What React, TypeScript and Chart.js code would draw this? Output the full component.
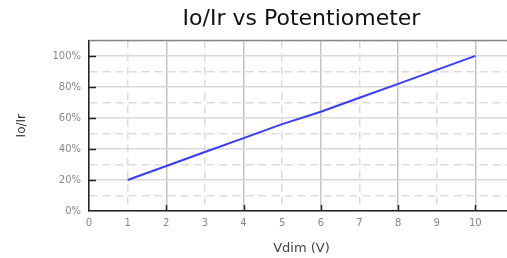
import React, { useEffect, useRef } from "react";
import { Chart, registerables } from "chart.js";

Chart.register(...registerables);

const xValues = [1, 2, 3, 4, 5, 6, 7, 8, 9, 10];
const ratioPercent = [20, 29, 38, 47, 56, 64, 73, 82, 91, 100];
const chartTitle = "Io/Ir vs Potentiometer";
const xAxisTitle = "Vdim (V)";
const yAxisTitle = "Io/Ir";

const innerTicks = {
  id: "innerTicks",
  afterDatasetsDraw(chart: any) {
    const { ctx, scales } = chart;
    const x = scales.x;
    const y = scales.y;
    ctx.save();
    ctx.strokeStyle = "#222";
    ctx.lineWidth = 1.5;
    ctx.beginPath();
    for (let v = 2; v <= 10; v += 2) {
      const px = Math.round(x.getPixelForValue(v)) + 0.5;
      ctx.moveTo(px, y.bottom);
      ctx.lineTo(px, y.bottom - 6);
    }
    for (let v = 20; v <= 100; v += 20) {
      const py = Math.round(y.getPixelForValue(v)) + 0.5;
      ctx.moveTo(x.left, py);
      ctx.lineTo(x.left + 7, py);
    }
    ctx.stroke();
    ctx.strokeStyle = "#888";
    ctx.lineWidth = 1.5;
    ctx.beginPath();
    ctx.moveTo(x.left, y.top);
    ctx.lineTo(x.right, y.top);
    ctx.stroke();
    ctx.restore();
  },
};

export default function App() {
  const ref = useRef<HTMLCanvasElement | null>(null);
  useEffect(() => {
    document.body.style.margin = "0";
    const chart = new Chart(ref.current!, {
      type: "line",
      data: {
        datasets: [
          {
            data: xValues.map((x, i) => ({ x, y: ratioPercent[i] })),
            borderColor: "#3a3aff",
            borderWidth: 2,
            pointRadius: 0,
            fill: false,
            tension: 0,
          },
        ],
      },
      options: {
        responsive: false,
        animation: false,
        layout: { padding: { left: 0, right: 6, top: 0, bottom: 0 } },
        plugins: {
          legend: { display: false },
          tooltip: { enabled: false },
          title: {
            display: true,
            text: chartTitle,
            fullSize: false,
            color: "#111",
            font: { family: "DejaVu Sans", size: 22, weight: "normal", lineHeight: 1.2 },
            padding: { top: 6, bottom: 8 },
          },
        },
        scales: {
          x: {
            type: "linear",
            min: 0,
            max: 11,
            afterFit: (s: any) => {
              s.height = 47;
            },
            ticks: {
              stepSize: 1,
              color: "#888",
              padding: 6,
              font: { family: "DejaVu Sans", size: 10 },
              callback: (v: any) => (v <= 10 ? String(v) : ""),
              maxRotation: 0,
              autoSkip: false,
            },
            grid: {
              drawTicks: false,
              color: (c: any) => (c.tick && c.tick.value % 2 === 0 ? "#c4c4c4" : "#dcdcdc"),
              lineWidth: 1.5,
            },
            border: {
              color: "#222",
              width: 1.5,
              dash: (c: any) => (c.tick && c.tick.value % 2 !== 0 ? [8, 5] : []),
            },
            title: {
              display: true,
              text: xAxisTitle,
              color: "#444",
              font: { family: "DejaVu Sans", size: 13, lineHeight: 1.2 },
              padding: { top: 0, bottom: 2 },
            },
          },
          y: {
            type: "linear",
            min: 0,
            max: 110,
            afterFit: (s: any) => {
              s.width = 89;
            },
            ticks: {
              stepSize: 10,
              color: "#888",
              padding: 8,
              font: { family: "DejaVu Sans", size: 10 },
              autoSkip: false,
              callback: (v: any) => (v % 20 === 0 && v <= 100 ? v + "%" : ""),
            },
            grid: {
              drawTicks: false,
              color: (c: any) => (c.tick && c.tick.value % 20 === 0 ? "#dadada" : "#dcdcdc"),
              lineWidth: 1.5,
            },
            border: {
              color: "#222",
              width: 1.5,
              dash: (c: any) => (c.tick && c.tick.value % 20 !== 0 ? [8, 5] : []),
            },
            title: {
              display: true,
              text: yAxisTitle,
              color: "#333",
              font: { family: "DejaVu Sans", size: 12, lineHeight: 1.2 },
              padding: { top: 15, bottom: 0 },
            },
          },
        },
      },
      plugins: [innerTicks],
    } as any);
    return () => chart.destroy();
  }, []);
  return (
    <div style={{ width: 507, height: 258, overflow: "hidden" }}>
      <canvas ref={ref} width={520} height={258} />
    </div>
  );
}
